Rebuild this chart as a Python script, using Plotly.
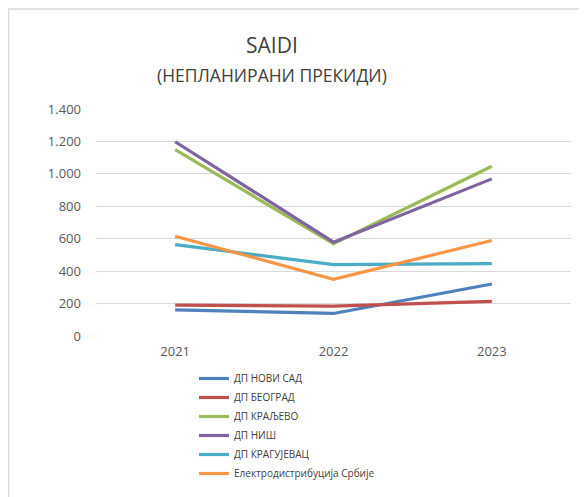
import plotly.graph_objects as go

years = ["2021", "2022", "2023"]
series_names = ["ДП НОВИ САД", "ДП БЕОГРАД", "ДП КРАЉЕВО", "ДП НИШ", "ДП КРАГУЈЕВАЦ", "Електродистрибуција Србије"]
novi_sad = [161, 139, 321]
beograd = [190, 184, 213]
kraljevo = [1149, 569, 1047]
nis = [1198, 579, 969]
kragujevac = [564, 440, 446]
eds = [615, 350, 589]
colors = ["#4F81BD", "#C0504D", "#9BBB59", "#8064A2", "#4BACC6", "#F79646"]
y_ticks = [0, 200, 400, 600, 800, 1000, 1200, 1400]
y_tick_labels = ["0", "200", "400", "600", "800", "1.000", "1.200", "1.400"]

W, H = 587, 497
OFF = 8  # page body margin
# target plot area in screenshot pixels: x 96..571, y 109..336
L = 96 - OFF
T = 109 - OFF
R = W - (571 - OFF)
B = H - (336 - OFF)
pw, ph = W - L - R, H - T - B

def px_x(x):
    return (x - OFF - L) / pw

def px_y(y):
    return (H - B - (y - OFF)) / ph

fig = go.Figure()
for name, vals, col in zip(series_names, [novi_sad, beograd, kraljevo, nis, kragujevac, eds], colors):
    fig.add_trace(go.Scatter(x=years, y=vals, name=name, mode="lines",
                             line=dict(color=col, width=3.2)))

font_family = "Open Sans, Liberation Sans, sans-serif"

fig.update_layout(
    width=W, height=H,
    margin=dict(l=L, r=R, t=T, b=B, pad=0),
    paper_bgcolor="white", plot_bgcolor="white",
    font=dict(family=font_family, color="#595959"),
    showlegend=True,
    legend=dict(x=px_x(194), y=px_y(364), xanchor="left", yanchor="top",
                orientation="v", font=dict(size=10, color="#404040"),
                bgcolor="rgba(0,0,0,0)", tracegroupgap=0, itemwidth=30),
    xaxis=dict(type="category", range=[-0.5, 2.5], showgrid=False, showline=False,
               zeroline=False, ticks="", tickfont=dict(size=13, color="#595959"),
               ticklabelstandoff=6),
    yaxis=dict(range=[0, 1400], tickvals=y_ticks, ticktext=y_tick_labels,
               showgrid=True, gridcolor="#D9D9D9", gridwidth=1, zeroline=False,
               showline=False, ticks="", tickfont=dict(size=13, color="#595959"),
               ticklabelstandoff=14),
    annotations=[
        dict(text="SAIDI", x=px_x(272), y=px_y(45), xref="paper", yref="paper",
             showarrow=False, font=dict(size=21, color="#404040", family=font_family),
             xanchor="center", yanchor="middle"),
        dict(text="(НЕПЛАНИРАНИ ПРЕКИДИ)", x=px_x(272), y=px_y(75), xref="paper", yref="paper",
             showarrow=False, font=dict(size=17.5, color="#404040", family=font_family),
             xanchor="center", yanchor="middle"),
    ],
    shapes=[
        dict(type="line", xref="paper", yref="paper", x0=px_x(8), x1=px_x(600),
             y0=px_y(9), y1=px_y(9), line=dict(color="#D9D9D9", width=1.5)),
        dict(type="line", xref="paper", yref="paper", x0=px_x(8.5), x1=px_x(8.5),
             y0=px_y(9), y1=px_y(510), line=dict(color="#D9D9D9", width=1.5)),
    ],
)

fig.write_html("out.html")
